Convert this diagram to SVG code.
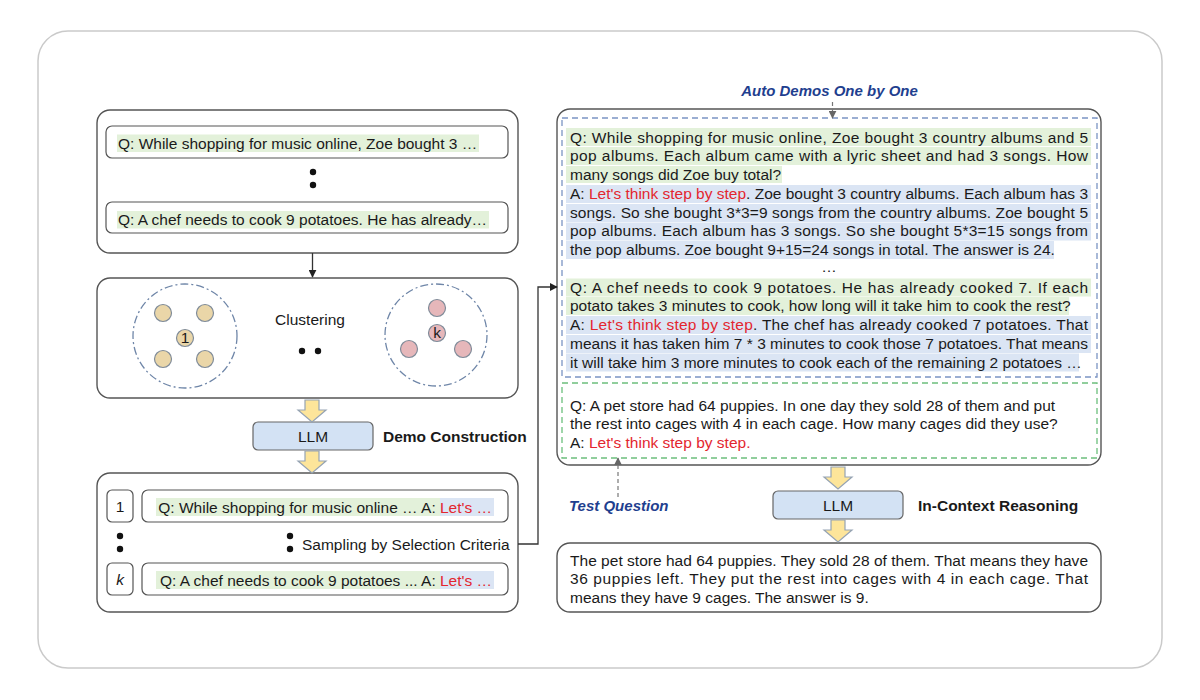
<svg xmlns="http://www.w3.org/2000/svg" width="1200" height="700" viewBox="0 0 1200 700">
<style>
text{font-family:"Liberation Sans",Arial,sans-serif;font-size:15.5px;fill:#1a1a1a}
.red{fill:#e3262f}
.bold{font-weight:bold}
.lbl{font-weight:bold;font-style:italic;fill:#1f3f8f;font-size:15px}
.box{fill:#fff;stroke:#555;stroke-width:1.4}
.inner{fill:#fff;stroke:#555;stroke-width:1.2}
.g{fill:#e3f1da}
.b{fill:#dbe5f4}
.llm{fill:#d3e2f4;stroke:#666;stroke-width:1.2}
.yarrow{fill:#fde59a;stroke:#95a3b3;stroke-width:1.2}
.dcirc{fill:none;stroke:#6f86a8;stroke-width:1.3;stroke-dasharray:8 3 2 3}
.tan{fill:#ead6a8;stroke:#7f8b99;stroke-width:1.2}
.pink{fill:#e6b7ba;stroke:#7f8b99;stroke-width:1.2}
.dot{fill:#111}
.conn{fill:none;stroke:#333;stroke-width:1.3}
.dconn{fill:none;stroke:#777;stroke-width:1.2;stroke-dasharray:4 3}
</style>
<defs>
<marker id="ah" viewBox="0 0 10 10" refX="9" refY="5" markerWidth="8" markerHeight="8" markerUnits="userSpaceOnUse" orient="auto">
<path d="M0,0 L10,5 L0,10 Z" fill="#222"/>
</marker>
<marker id="ahg" viewBox="0 0 10 10" refX="9" refY="5" markerWidth="8" markerHeight="8" markerUnits="userSpaceOnUse" orient="auto">
<path d="M0,0 L10,5 L0,10 Z" fill="#666"/>
</marker>
<path id="ya" d="M-7,0 H7 V10 H14 L0,22 L-14,10 H-7 Z"/>
</defs>
<rect x="38" y="31" width="1124" height="637" rx="30" fill="#fff" stroke="#cacaca" stroke-width="1.5"/>

<g id="questions">
<rect class="box" x="97" y="110" width="421" height="143" rx="13"/>
<rect class="inner" x="106" y="126" width="402" height="32" rx="6"/>
<rect class="g" x="117" y="134.5" width="362" height="17.5"/>
<text x="118" y="148.5">Q: While shopping for music online, Zoe bought 3 …</text>
<circle class="dot" cx="313" cy="172" r="3.2"/>
<circle class="dot" cx="313" cy="185" r="3.2"/>
<rect class="inner" x="106" y="202" width="402" height="31" rx="6"/>
<rect class="g" x="117" y="211" width="372" height="17.5"/>
<text x="118" y="225" textLength="369">Q: A chef needs to cook 9 potatoes. He has already…</text>
</g>

<g id="clustering">
<rect class="box" x="97" y="278" width="421" height="120" rx="13"/>
<circle class="dcirc" cx="185" cy="336" r="52"/>
<circle class="tan" cx="163" cy="313" r="8.5"/>
<circle class="tan" cx="205" cy="313" r="8.5"/>
<circle class="tan" cx="185" cy="338" r="8.5"/>
<circle class="tan" cx="163" cy="359" r="8.5"/>
<circle class="tan" cx="205" cy="359" r="8.5"/>
<text x="185" y="343" text-anchor="middle" font-size="13">1</text>
<text x="310" y="325" text-anchor="middle">Clustering</text>
<circle class="dot" cx="302" cy="351" r="3.2"/>
<circle class="dot" cx="318" cy="351" r="3.2"/>
<circle class="dcirc" cx="436" cy="335" r="51"/>
<circle class="pink" cx="437" cy="308" r="8.5"/>
<circle class="pink" cx="437" cy="333" r="8.5"/>
<circle class="pink" cx="409" cy="349" r="8.5"/>
<circle class="pink" cx="463" cy="349" r="8.5"/>
<text x="437" y="338" text-anchor="middle" font-size="13">k</text>
</g>

<g id="llm1">
<rect class="llm" x="253" y="422" width="120" height="28" rx="5"/>
<text x="313" y="441.5" text-anchor="middle">LLM</text>
<text class="bold" x="383" y="441.5">Demo Construction</text>
</g>

<g id="demos">
<rect class="box" x="97" y="473" width="421" height="139" rx="13"/>
<rect class="inner" x="107" y="490" width="26" height="32" rx="5"/>
<text x="120" y="512" text-anchor="middle">1</text>
<rect class="inner" x="142" y="490" width="366" height="32" rx="6"/>
<rect class="g" x="156" y="498" width="284" height="18"/>
<rect class="b" x="440" y="498" width="54" height="18"/>
<text x="440" y="512.5" text-anchor="end">Q: While shopping for music online … A:&#160;</text>
<text class="red" x="440" y="512.5">Let's …</text>
<circle class="dot" cx="120" cy="536" r="3.2"/>
<circle class="dot" cx="120" cy="549" r="3.2"/>
<circle class="dot" cx="290" cy="536" r="3.2"/>
<circle class="dot" cx="290" cy="549" r="3.2"/>
<text x="302" y="549.5">Sampling by Selection Criteria</text>
<rect class="inner" x="107" y="563" width="26" height="32" rx="5"/>
<text x="120" y="585" text-anchor="middle" font-style="italic">k</text>
<rect class="inner" x="142" y="563" width="366" height="32" rx="6"/>
<rect class="g" x="156" y="571" width="284" height="18"/>
<rect class="b" x="440" y="571" width="54" height="18"/>
<text x="440" y="585.5" text-anchor="end">Q: A chef needs to cook 9 potatoes ... A:&#160;</text>
<text class="red" x="440" y="585.5">Let's …</text>
</g>

<g id="context">
<rect class="box" x="557" y="109" width="544" height="356" rx="13"/>
<rect x="562" y="118" width="535" height="259" fill="none" stroke="#7b94c4" stroke-width="1.3" stroke-dasharray="6 4"/>
<rect x="562" y="383" width="535" height="75" fill="none" stroke="#6cbf7c" stroke-width="1.3" stroke-dasharray="6 4"/>
<rect class="g" x="566" y="128" width="525" height="18"/>
<rect class="g" x="566" y="147" width="525" height="18"/>
<rect class="g" x="566" y="166" width="216" height="17"/>
<rect class="b" x="566" y="185" width="525" height="18"/>
<rect class="b" x="566" y="204" width="525" height="18"/>
<rect class="b" x="566" y="222.5" width="525" height="18"/>
<rect class="b" x="566" y="241" width="488" height="18"/>
<rect class="g" x="566" y="278.5" width="525" height="18"/>
<rect class="g" x="566" y="297" width="503" height="18"/>
<rect class="b" x="566" y="316" width="525" height="18"/>
<rect class="b" x="566" y="335" width="525" height="18"/>
<rect class="b" x="566" y="353.5" width="513" height="18"/>
<text x="570" y="142.5" textLength="518">Q: While shopping for music online, Zoe bought 3 country albums and 5</text>
<text x="570" y="161.3" textLength="518">pop albums. Each album came with a lyric sheet and had 3 songs. How</text>
<text x="570" y="180">many songs did Zoe buy total?</text>
<text x="570" y="198.8" textLength="518">A: <tspan class="red">Let's think step by step</tspan>. Zoe bought 3 country albums. Each album has 3</text>
<text x="570" y="217.5" textLength="518">songs. So she bought 3*3=9 songs from the country albums. Zoe bought 5</text>
<text x="570" y="236.3" textLength="518">pop albums. Each album has 3 songs. So she bought 5*3=15 songs from</text>
<text x="570" y="255">the pop albums. Zoe bought 9+15=24 songs in total. The answer is 24.</text>
<text x="829" y="272" text-anchor="middle" font-size="12" fill="#777">…</text>
<text x="570" y="292.5" textLength="518">Q: A chef needs to cook 9 potatoes. He has already cooked 7. If each</text>
<text x="570" y="311.3">potato takes 3 minutes to cook, how long will it take him to cook the rest?</text>
<text x="570" y="330" textLength="518">A: <tspan class="red">Let's think step by step</tspan>. The chef has already cooked 7 potatoes. That</text>
<text x="570" y="348.8" textLength="518">means it has taken him 7 * 3 minutes to cook those 7 potatoes. That means</text>
<text x="570" y="367.5">it will take him 3 more minutes to cook each of the remaining 2 potatoes …</text>
<text x="570" y="410.5">Q: A pet store had 64 puppies. In one day they sold 28 of them and put</text>
<text x="570" y="429">the rest into cages with 4 in each cage. How many cages did they use?</text>
<text x="570" y="447.5">A: <tspan class="red">Let's think step by step.</tspan></text>
</g>

<g id="labels">
<text class="lbl" x="829.5" y="96" text-anchor="middle">Auto Demos One by One</text>
<text class="lbl" x="569" y="510.5">Test Question</text>
</g>

<g id="llm2">
<rect class="llm" x="773" y="491" width="130" height="28" rx="5"/>
<text x="838" y="510.5" text-anchor="middle">LLM</text>
<text class="bold" x="918" y="510.5">In-Context Reasoning</text>
</g>

<g id="answer">
<rect class="box" x="557" y="543" width="544" height="69" rx="13"/>
<text x="570" y="565.5" textLength="518">The pet store had 64 puppies. They sold 28 of them. That means they have</text>
<text x="570" y="584" textLength="518">36 puppies left. They put the rest into cages with 4 in each cage. That</text>
<text x="570" y="602.5">means they have 9 cages. The answer is 9.</text>
</g>

<g id="connectors">
<path class="conn" d="M312.5,253 V277" marker-end="url(#ah)"/>
<path class="conn" d="M518,544 H538 V287 H557" marker-end="url(#ah)"/>
<path class="dconn" d="M832.5,102 V118" marker-end="url(#ahg)"/>
<path class="dconn" d="M618,497 V458" marker-end="url(#ahg)"/>
<use href="#ya" class="yarrow" transform="translate(312,400)"/>
<use href="#ya" class="yarrow" transform="translate(312,451)"/>
<use href="#ya" class="yarrow" transform="translate(838,467)"/>
<use href="#ya" class="yarrow" transform="translate(838,520)"/>
</g>
</svg>
